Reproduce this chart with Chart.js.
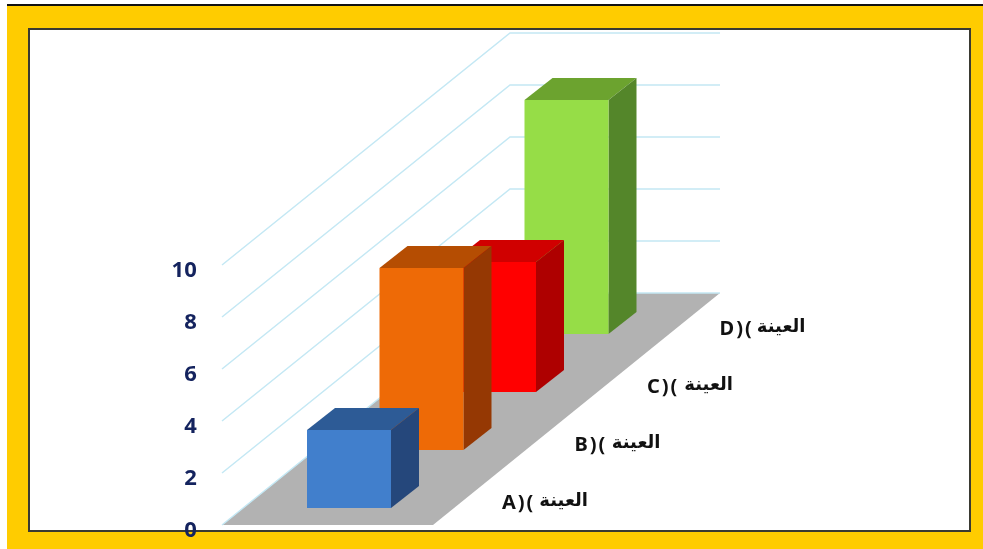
<!DOCTYPE html>
<html lang="ar">
  <head>
    <meta charset="UTF-8" />
    <script src="https://cdn.jsdelivr.net/npm/chart.js"></script>
    <title>العينة</title>
    <style>
      * {
        padding: 0;
        margin: 0;
        box-sizing: border-box;
      }
      body {
        width: 983px;
        height: 549px;
        background-color: #fff;
        overflow: hidden;
      }
      .frame {
        position: absolute;
        left: 7px;
        top: 4px;
        right: 0;
        bottom: 0;
        background-color: #fc0;
        border-top: 2px solid #111;
      }
      .inner {
        position: absolute;
        left: 28px;
        top: 28px;
        width: 943px;
        height: 504px;
        background-color: #fff;
        border: 2px solid #3a3a32;
      }
      canvas {
        position: absolute;
        left: 0;
        top: 0;
      }
    </style>
  </head>
  <body>
    <div class="frame"></div>
    <div class="inner"></div>
    <canvas id="myChart" width="983" height="549"></canvas>
    <script>
      const categories = ['A)( العينة', 'B)( العينة', 'C)( العينة', 'D)( العينة'];
      const values = [3, 7, 5, 9];
      const tickLabels = [0, 2, 4, 6, 8, 10];

      const faceColors = ['#417fcc', '#ee6a06', '#ff0000', '#96dd47'];
      const topColors = ['#2d5b96', '#b54d02', '#d00000', '#6ca32f'];
      const sideColors = ['#25477b', '#953803', '#ae0000', '#54862a'];

      // 3d projection, in px
      const barDepthX = 28;
      const barDepthY = 22;
      const rowShiftY = 58;
      const firstRowY = 17;
      const wallX = 222;
      const wallDepthX = 288;
      const wallDepthY = 232;
      const wallRight = 720;
      const floorFrontRight = 433;

      function poly(ctx, color, pts) {
        ctx.fillStyle = color;
        ctx.beginPath();
        pts.forEach((p, i) => (i ? ctx.lineTo(p[0], p[1]) : ctx.moveTo(p[0], p[1])));
        ctx.closePath();
        ctx.fill();
      }

      const bars3d = {
        id: 'bars3d',
        // floor and the two walls of grid lines
        beforeDatasetsDraw(chart) {
          const ctx = chart.ctx;
          const y = chart.scales.y;
          const y0 = y.getPixelForValue(0);
          poly(ctx, '#b2b2b2', [
            [wallX, y0],
            [floorFrontRight, y0],
            [wallRight, y0 - wallDepthY],
            [wallX + wallDepthX, y0 - wallDepthY],
          ]);
          ctx.save();
          ctx.lineWidth = 1.5;
          ctx.strokeStyle = '#c4e8f4';
          tickLabels.forEach((t) => {
            const py = y.getPixelForValue(t);
            ctx.beginPath();
            ctx.moveTo(wallX, py);
            ctx.lineTo(wallX + wallDepthX, py - wallDepthY);
            ctx.lineTo(wallRight, py - wallDepthY);
            ctx.stroke();
          });
          ctx.restore();
        },
        // back row first so the nearer bars cover it
        beforeDatasetDraw(chart, args) {
          const ctx = chart.ctx;
          const bars = args.meta.data;
          for (let i = bars.length - 1; i >= 0; i--) {
            const b = bars[i].getProps(['x', 'y', 'base', 'width'], true);
            const shift = firstRowY + rowShiftY * i;
            const l = b.x - b.width / 2;
            const r = b.x + b.width / 2;
            const t = b.y - shift;
            const f = b.base - shift;
            poly(ctx, topColors[i], [
              [l, t],
              [r, t],
              [r + barDepthX, t - barDepthY],
              [l + barDepthX, t - barDepthY],
            ]);
            poly(ctx, sideColors[i], [
              [r, t],
              [r + barDepthX, t - barDepthY],
              [r + barDepthX, f - barDepthY],
              [r, f],
            ]);
            poly(ctx, faceColors[i], [
              [l, t],
              [r, t],
              [r, f],
              [l, f],
            ]);
          }
          return false;
        },
        // category labels sit along the front edge of the floor,
        // latin part and arabic part have different sizes
        afterDatasetsDraw(chart) {
          const ctx = chart.ctx;
          const x = chart.scales.x;
          const y0 = chart.scales.y.getPixelForValue(0);
          ctx.save();
          ctx.direction = 'ltr';
          ctx.textBaseline = 'middle';
          ctx.fillStyle = '#111';
          categories.forEach((c, i) => {
            const parts = c.split(' ');
            const lx = x.getPixelForValue(i) + 153;
            const ly = y0 - firstRowY - rowShiftY * i - 5;
            ctx.textAlign = 'left';
            ctx.letterSpacing = '2px';
            ctx.font = 'bold 20px "Noto Sans"';
            ctx.fillText(parts[0], lx, ly);
            ctx.textAlign = 'right';
            ctx.letterSpacing = '0px';
            ctx.font = 'bold 18px "DejaVu Sans"';
            ctx.fillText(parts[1], lx + 86, ly - 2);
          });
          ctx.restore();
        },
      };

      new Chart(document.getElementById('myChart'), {
        type: 'bar',
        data: {
          labels: categories,
          datasets: [
            {
              data: values,
              backgroundColor: faceColors,
              barPercentage: 84 / 72.5,
              categoryPercentage: 1,
            },
          ],
        },
        options: {
          responsive: false,
          animation: false,
          layout: {
            padding: { top: 265, bottom: 24, left: 0, right: 380.25 },
          },
          plugins: {
            legend: { display: false },
            tooltip: { enabled: false },
          },
          scales: {
            x: { display: false },
            y: {
              min: 0,
              max: 10,
              afterFit(axis) {
                axis.width = 312.75;
              },
              afterBuildTicks(axis) {
                axis.ticks = tickLabels.map((v) => ({ value: v }));
              },
              // tick marks stay hidden, their length only pushes the labels out to the wall
              grid: { display: false, tickLength: 112 },
              border: { display: false },
              ticks: {
                padding: 4,
                labelOffset: 6,
                color: '#14235e',
                font: { family: '"Noto Sans"', size: 22, weight: 'bold' },
              },
            },
          },
        },
        plugins: [bars3d],
      });
    </script>
  </body>
</html>
